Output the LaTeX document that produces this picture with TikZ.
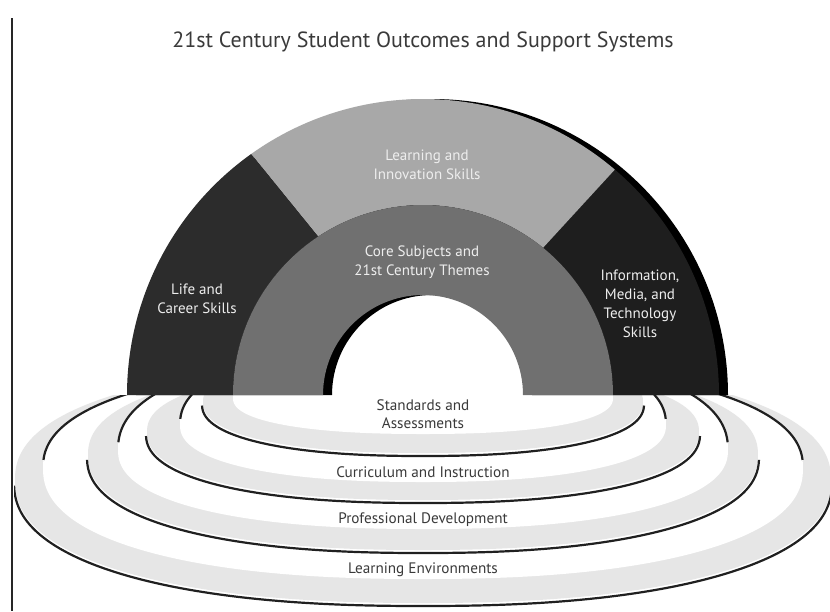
\documentclass[tikz,border=0pt]{standalone}
\usepackage{fontspec}
\setmainfont{PT Sans}
\definecolor{archdarkL}{HTML}{2C2C2C}
\definecolor{archdarkR}{HTML}{1E1E1E}
\definecolor{archlight}{HTML}{A8A8A8}
\definecolor{archmid}{HTML}{707070}
\definecolor{bandgray}{HTML}{E6E6E6}
\definecolor{archtext}{HTML}{EEEEEE}
\definecolor{bodytext}{HTML}{3A3A3A}
\definecolor{ringline}{HTML}{202020}
% superellipse-like curve: #1 cy, #2 rx, #3 ry up, #4 ry down, #5 start, #6 end, #7 samples
\newcommand{\sepath}[7]{plot[domain=#5:#6, samples=#7, variable=\t, smooth] ({423+#2*cos(\t)*pow(abs(cos(\t)),-0.13)}, {#1+ifthenelse(sin(\t)>0,#4,#3)*sin(\t)*pow(abs(sin(\t)),-0.13)})}
\begin{document}
\begin{tikzpicture}[x=1pt,y=-1pt,
  archtxt/.style={text=archtext, align=center, font=\fontsize{15}{19}\selectfont},
  bandtxt/.style={text=bodytext, align=center, font=\fontsize{15.2}{18.5}\selectfont},
  rimline/.style={draw=ringline, line width=2.2pt},
  titletxt/.style={text=bodytext, font=\fontsize{22}{26}\selectfont}
]
\useasboundingbox (0,0) rectangle (830,611);
\fill[white] (0,0) rectangle (830,611);

% frame line
\coordinate (frametop) at (12,18);
\coordinate (framebot) at (12,611);
\draw[line width=1.3pt, black!85] (frametop) -- (framebot);

% title
\node[titletxt] (title) at (423,42) {21st Century Student Outcomes and Support Systems};

% ---------- support-system rings ----------
\begin{scope}
\clip (14,395) rectangle (830,611);
% ring 4
\fill[bandgray] \sepath{480}{408}{118}{123}{1}{359}{180} -- cycle;
\fill[white] \sepath{468}{380}{106}{111}{1}{359}{180} -- cycle;
\draw[rimline] \sepath{482}{409}{118}{124}{1}{179}{90};
\draw[rimline] \sepath{468}{380}{106}{111}{183}{269}{44};
\draw[rimline] \sepath{468}{380}{106}{111}{271}{357}{44};
% ring 3
\fill[bandgray] \sepath{455}{335}{92}{95}{1}{359}{180} -- cycle;
\fill[white] \sepath{450}{305}{101}{79}{1}{359}{180} -- cycle;
\draw[rimline] \sepath{457}{336}{92}{96}{1}{179}{90};
\draw[rimline] \sepath{450}{305}{101}{79}{183}{269}{44};
\draw[rimline] \sepath{450}{305}{101}{79}{271}{357}{44};
% ring 2
\fill[bandgray] \sepath{432}{276}{65}{68}{1}{359}{180} -- cycle;
\fill[white] \sepath{425}{243}{80}{57}{1}{359}{180} -- cycle;
\draw[rimline] \sepath{434}{277}{65}{69}{1}{179}{90};
\draw[rimline] \sepath{425}{243}{80}{57}{183}{269}{44};
\draw[rimline] \sepath{425}{243}{80}{57}{271}{357}{44};
% ring 1
\fill[bandgray] \sepath{402}{220}{50}{51}{1}{359}{180} -- cycle;
\fill[white] \sepath{398}{190}{45}{36}{1}{359}{180} -- cycle;
\draw[rimline] \sepath{404}{221}{50}{52}{1}{179}{90};
\end{scope}

% ---------- arch ----------
% shadow
\begin{scope}[xshift=9pt]
\fill[black] (719,395) arc[start angle=0, end angle=-180, radius=296]
  -- (323,395) arc[start angle=-180, end angle=0, radius=100] -- cycle;
\end{scope}
% right dark segment
\fill[archdarkR] (719,395) arc[start angle=0, end angle=-49.6, radius=296]
  -- ([shift={(423,395)}] -50.8:190) arc[start angle=-50.8, end angle=0, radius=190] -- cycle;
% top light segment
\fill[archlight] ([shift={(423,395)}] -49.6:296) arc[start angle=-49.6, end angle=-125.5, radius=296]
  -- ([shift={(423,395)}] -123.5:190) arc[start angle=-123.5, end angle=-50.8, radius=190] -- cycle;
% left dark segment
\fill[archdarkL] ([shift={(423,395)}] -125.5:296) arc[start angle=-125.5, end angle=-180, radius=296]
  -- (233,395) arc[start angle=-180, end angle=-123.5, radius=190] -- cycle;
% core ring
\fill[archmid] (613,395) arc[start angle=0, end angle=-180, radius=190]
  -- (323,395) arc[start angle=-180, end angle=0, radius=100] -- cycle;

% arch texts
\node[archtxt] (learn) at (427,165) {Learning and\\Innovation Skills};
\node[archtxt] (core) at (422,262) {Core Subjects and\\21st Century Themes};
\node[archtxt] (life) at (197,299) {Life and\\Career Skills};
\node[archtxt] (info) at (640,304) {Information,\\Media, and\\Technology\\Skills};

% ring texts
\node[bandtxt] (stand) at (423,414) {Standards and\\Assessments};
\node[bandtxt] (curric) at (423,472) {Curriculum and Instruction};
\node[bandtxt] (prof) at (423,520) {Professional Development};
\node[bandtxt] (envir) at (423,570) {Learning Environments};
\end{tikzpicture}
\end{document}
